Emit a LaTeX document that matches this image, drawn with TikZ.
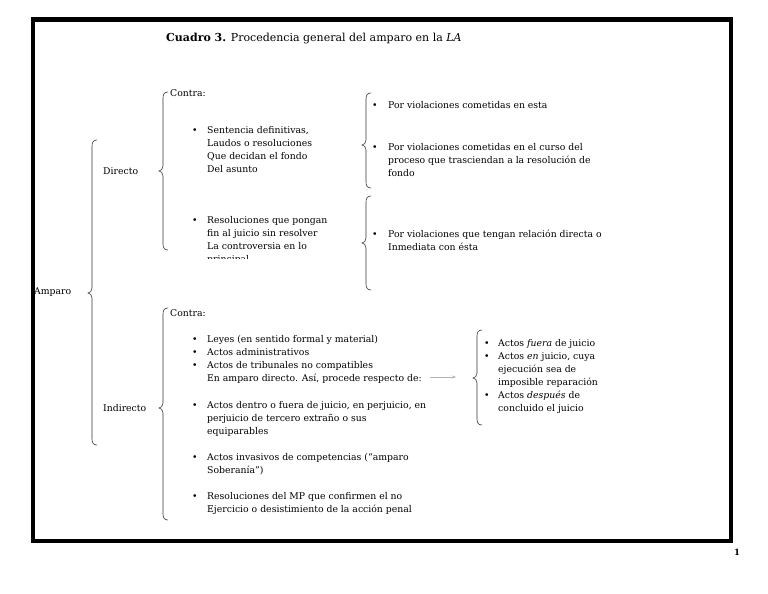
\documentclass[tikz,border=0pt]{standalone}
\usepackage{fontspec}
\setmainfont{DejaVu Serif}
\usetikzlibrary{arrows.meta}
\newcommand\curlybr[4]{%
  \draw[bracestyle] ({#1+5},{#2}) .. controls ({#1+1.5},{#2}) and ({#1},{#2+2}) .. ({#1},{#2+6})
    -- ({#1},{#3-5}) .. controls ({#1},{#3-2}) and ({#1-2},{#3}) .. ({#1-4},{#3})
    .. controls ({#1-2},{#3}) and ({#1},{#3+2}) .. ({#1},{#3+5})
    -- ({#1},{#4-6}) .. controls ({#1},{#4-2}) and ({#1+1.5},{#4}) .. ({#1+5},{#4});}
\begin{document}
\begin{tikzpicture}[x=1pt,y=-1pt,
  txt/.style={anchor=base west, inner sep=0pt, font=\fontsize{9.3}{12}\selectfont},
  bracestyle/.style={draw=black!80, line width=0.6pt},
  frame/.style={draw=black, line width=4.5pt}]
\useasboundingbox (0,0) rectangle (768,594);
\fill[white] (0,0) rectangle (768,594);
\draw[frame] (33,19.5) rectangle (731,541);
\node[anchor=base west, inner sep=0pt, font=\bfseries\fontsize{8.5}{10}\selectfont] (pg) at (734,555) {1};
% title
\node[anchor=base west, inner sep=0pt, font=\fontsize{11}{13}\selectfont] (title) at (166,42) {\textbf{Cuadro 3.} Procedencia general del amparo en la \textit{LA}};
% level 1
\node[txt] (amparo) at (34,294) {Amparo};
\curlybr{92}{140}{293}{445}
\node[txt] (directo) at (103,174) {Directo};
\node[txt] (indirecto) at (103,411) {Indirecto};
% Directo
\curlybr{163}{92}{171}{250}
\node[txt] (contraD) at (170,96) {Contra:};
\node[txt] (b1) at (192,133) {\textbullet};
\node[txt] (s1) at (207,133) {Sentencia definitivas,};
\node[txt] (s2) at (207,146) {Laudos o resoluciones};
\node[txt] (s3) at (207,159) {Que decidan el fondo};
\node[txt] (s4) at (207,172) {Del asunto};
\node[txt] (b2) at (192,223) {\textbullet};
\node[txt] (r1) at (207,223) {Resoluciones que pongan};
\node[txt] (r2) at (207,236) {fin al juicio sin resolver};
\node[txt] (r3) at (207,249) {La controversia en lo};
\begin{scope}
\clip (200,250) rectangle (340,258.5);
\node[txt] (r4) at (207,262) {principal};
\end{scope}
\curlybr{366}{93}{145}{188}
\node[txt] (b3) at (372,108) {\textbullet};
\node[txt] (p1) at (388,108) {Por violaciones cometidas en esta};
\node[txt] (b4) at (372,150) {\textbullet};
\node[txt] (p2) at (388,150) {Por violaciones cometidas en el curso del};
\node[txt] (p3) at (388,163) {proceso que trasciendan a la resolución de};
\node[txt] (p4) at (388,176) {fondo};
\curlybr{366}{196}{243}{290}
\node[txt] (b5) at (372,237) {\textbullet};
\node[txt] (q1) at (388,237) {Por violaciones que tengan relación directa o};
\node[txt] (q2) at (388,250) {Inmediata con ésta};
% Indirecto
\curlybr{163}{308}{408}{520}
\node[txt] (contraI) at (170,316) {Contra:};
\node[txt] (b6) at (192,342) {\textbullet};
\node[txt] (i1) at (207,342) {Leyes (en sentido formal y material)};
\node[txt] (b7) at (192,355) {\textbullet};
\node[txt] (i2) at (207,355) {Actos administrativos};
\node[txt] (b8) at (192,368) {\textbullet};
\node[txt] (i3) at (207,368) {Actos de tribunales no compatibles};
\node[txt] (procede) at (207,381) {En amparo directo. Así, procede respecto de:};
\node[txt] (b9) at (192,408) {\textbullet};
\node[txt] (i5) at (207,408) {Actos dentro o fuera de juicio, en perjuicio, en};
\node[txt] (i6) at (207,421) {perjuicio de tercero extraño o sus};
\node[txt] (i7) at (207,434) {equiparables};
\node[txt] (b10) at (192,460) {\textbullet};
\node[txt] (i8) at (207,460) {Actos invasivos de competencias (“amparo};
\node[txt] (i9) at (207,473) {Soberanía”)};
\node[txt] (b11) at (192,499) {\textbullet};
\node[txt] (i10) at (207,499) {Resoluciones del MP que confirmen el no};
\node[txt] (i11) at (207,512) {Ejercicio o desistimiento de la acción penal};
% arrow
\coordinate (arrS) at (430,377);
\coordinate (arrE) at (456,377);
\draw[draw=black!30, line width=0.6pt, -{Stealth[length=4pt,width=3pt]}] (arrS) -- (arrE);
\curlybr{477}{330}{378}{425}
\node[txt] (c1b) at (484,346) {\textbullet};
\node[txt] (c1) at (498,346) {Actos \textit{fuera} de juicio};
\node[txt] (c2b) at (484,359) {\textbullet};
\node[txt] (c2) at (498,359) {Actos \textit{en} juicio, cuya};
\node[txt] (c3) at (498,372) {ejecución sea de};
\node[txt] (c4) at (498,385) {imposible reparación};
\node[txt] (c5b) at (484,398) {\textbullet};
\node[txt] (c5) at (498,398) {Actos \textit{después} de};
\node[txt] (c6) at (498,411) {concluido el juicio};
\end{tikzpicture}
\end{document}
